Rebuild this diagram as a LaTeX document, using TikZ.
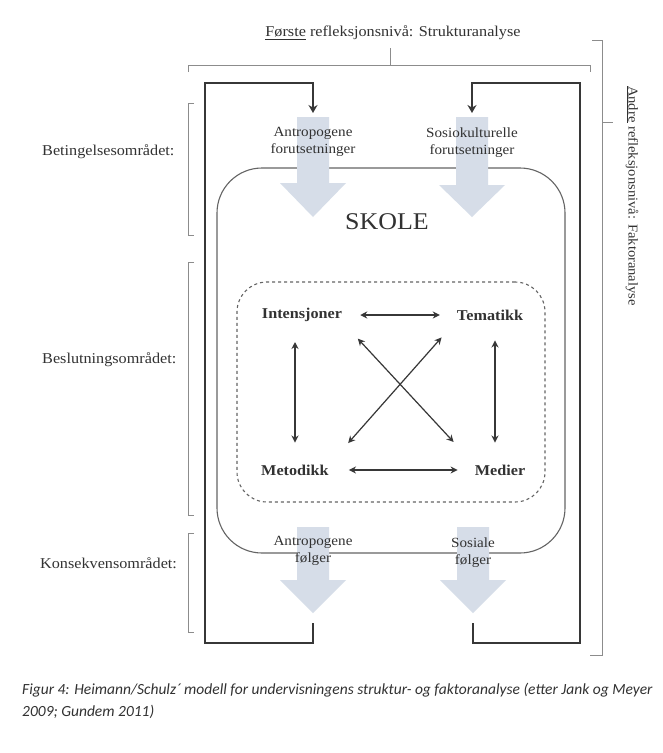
\documentclass[tikz,border=0pt]{standalone}
\usepackage{fontspec}
\setmainfont{Liberation Serif}[FakeStretch=1.08]
\newfontfamily\capfont{Carlito}
\usetikzlibrary{arrows.meta, positioning}
\definecolor{ink}{RGB}{50,50,50}
\definecolor{frame}{RGB}{55,55,55}
\definecolor{bracketgray}{RGB}{140,140,140}
\definecolor{boxline}{RGB}{100,100,100}
\definecolor{flow}{RGB}{214,221,232}

\begin{document}
\begin{tikzpicture}[x=1pt, y=-1pt,
    area/.style={font=\fontsize{15}{17}\selectfont, text=ink, anchor=west, inner sep=0},
    factor/.style={font=\fontsize{15}{17}\selectfont\bfseries, text=ink, inner sep=2},
    flowtext/.style={font=\fontsize{14}{17}\selectfont, text=ink, align=center, inner sep=0},
    level/.style={font=\fontsize{15}{17}\selectfont, text=ink, inner sep=0},
    bracket/.style={draw=bracketgray, line width=0.8},
    feedback/.style={draw=frame, line width=1.3, -{Stealth[length=8,width=9]}},
    link/.style={draw=frame, line width=1.2, {Stealth[length=7,width=7]}-{Stealth[length=7,width=7]}},
    bigarrow/.style={fill=flow}
]
    \useasboundingbox[fill=white] (0,0) rectangle (662,753);

    \node[draw=boxline, line width=1.1, rounded corners=45, minimum width=348, minimum height=385] (skole) at (391,360.5) {};
    \node[draw=boxline, dashed, line width=1.1, rounded corners=30, minimum width=308, minimum height=220] (kjerne) at (391,392) {};
    \node[font=\fontsize{24}{28}\selectfont, text=ink] (skoletxt) at (387,222) {SKOLE};

    \foreach \cx/\ya/\yb/\yc in {313/117/183/217, 472/117/185/217, 313/527/580/613, 473/527/580/613}
        \fill[bigarrow] (\cx-16,\ya) -- (\cx+16,\ya) -- (\cx+16,\yb) -- (\cx+33,\yb) -- (\cx,\yc) -- (\cx-33,\yb) -- (\cx-16,\yb) -- cycle;

    \node[flowtext] (antropF) at (313,141.5) {Antropogene\\forutsetninger};
    \node[flowtext] (sosioF) at (472,143) {Sosiokulturelle\\forutsetninger};
    \node[flowtext] (antropK) at (313,551) {Antropogene\\følger};
    \node[flowtext] (sosialK) at (473,553) {Sosiale\\følger};

    \node[factor] (intens) at (302,315) {Intensjoner};
    \node[factor] (tema) at (490,315) {Tematikk};
    \node[factor] (metod) at (295,470) {Metodikk};
    \node[factor] (medier) at (500,470) {Medier};

    \draw[link, shorten <=16, shorten >=15] (intens) -- (tema);
    \draw[link, shorten <=18, shorten >=15] (metod) -- (medier);
    \draw[link, shorten <=18, shorten >=20] (intens.south -| metod.north) -- (metod.north);
    \draw[link, shorten <=18, shorten >=20] ([xshift=5]tema.south) -- ([xshift=-5]medier.north);
    \draw[link, shorten <=20, shorten >=28] (intens.south east) -- (medier.north west);
    \draw[link, shorten <=20, shorten >=26] (tema.south west) -- (metod.north east);

    \coordinate (inL) at (313,113);
    \coordinate (inR) at (472,113);
    \coordinate (outL) at (313,623);
    \coordinate (outR) at (473,623);
    \draw[feedback] (outL) |- (205,643) |- (313,83) -- (inL);
    \draw[feedback] (outR) |- (580,643) |- (472,83) -- (inR);

    \node[area] (beting) at (42,152) {Betingelsesområdet:};
    \node[area] (beslut) at (42,360) {Beslutningsområdet:};
    \node[area] (konsek) at (40,563) {Konsekvensområdet:};
    \foreach \ya/\yb in {103/235, 262/515, 533/632}
        \draw[bracket] (194,\ya) -- (188,\ya) -- (188,\yb) -- (194,\yb);

    \node[level] (forste) at (393,33) {\underline{Første} refleksjonsnivå: Strukturanalyse};
    \draw[bracket] (188,72) -- (188,65) -- (590,65) -- (590,72);
    \draw[bracket] (390,65) -- (390,48);

    \node[level, font=\fontsize{13.5}{17}\selectfont, rotate=-90] (andre) at (632,196) {\underline{Andre} refleksjonsnivå: Faktoranalyse};
    \draw[bracket] (592,40) -- (602,40) -- (602,655) -- (590,655);
    \draw[bracket] (602,122) -- (613,122);

    \node[font=\capfont\itshape\fontsize{15.5}{22}\selectfont, text=ink, anchor=north west, align=left, inner sep=0] (caption) at (22,683) {Figur 4: Heimann/Schulz´ modell for undervisningens struktur- og faktoranalyse (etter Jank og Meyer\\2009; Gundem 2011)};
\end{tikzpicture}
\end{document}
